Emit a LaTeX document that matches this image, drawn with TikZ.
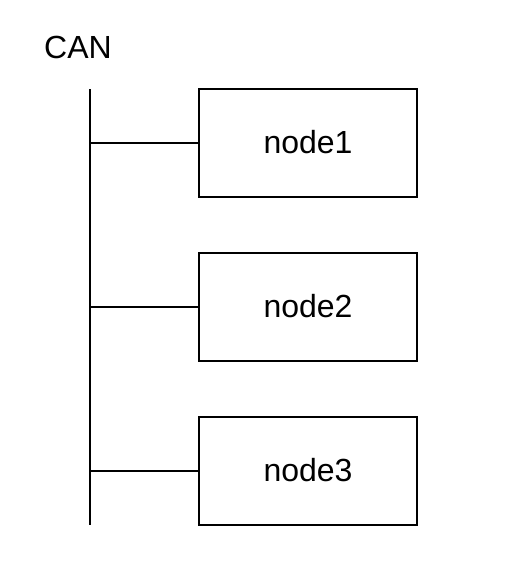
\documentclass[tikz,border=0pt]{standalone}
\usepackage{fontspec}
\setmainfont{Liberation Sans}
\usepackage{tikz}
\usetikzlibrary{positioning}
\tikzset{
    ecu/.style={rectangle, draw, line width=2pt, minimum width=218pt, minimum height=108pt, text centered, font=\fontsize{32}{38}\selectfont},
    bus/.style={line width=2pt},
    stub/.style={line width=2pt}
}

\begin{document}
\begin{tikzpicture}[x=1pt, y=-1pt, node distance=54pt]
    \useasboundingbox (0,0) rectangle (505,563);

    % Bus label
    \node[anchor=base west, inner sep=0pt, font=\fontsize{32}{38}\selectfont] (lbl) at (44,58) {CAN};

    % Nodes on the bus
    \node[ecu] (n1) at (308,142.5) {node1};
    \node[ecu, below=of n1] (n2) {node2};
    \node[ecu, below=of n2] (n3) {node3};

    % Bus line
    \coordinate (top) at (90,89);
    \coordinate (bot) at (90,525);
    \draw[bus] (top) -- (bot);

    % Taps
    \coordinate (t1) at (top |- n1.west);
    \coordinate (t2) at (top |- n2.west);
    \coordinate (t3) at (top |- n3.west);
    \draw[stub] (t1) -- (n1.west);
    \draw[stub] (t2) -- (n2.west);
    \draw[stub] (t3) -- (n3.west);
\end{tikzpicture}
\end{document}
